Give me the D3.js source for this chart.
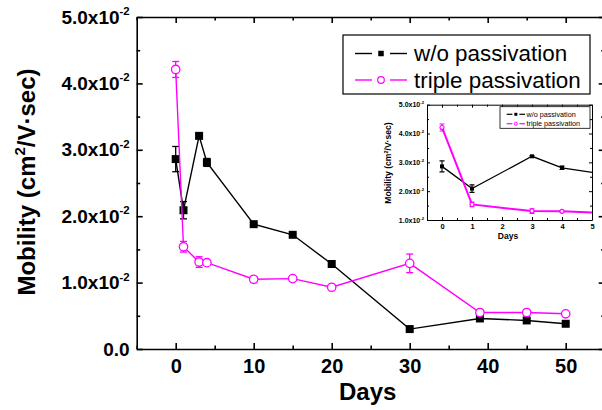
<!DOCTYPE html>
<html><head><meta charset="utf-8">
<script src="https://cdn.jsdelivr.net/npm/d3@7"></script>
<style>
html,body{margin:0;padding:0;background:#fff;}
svg{display:block;font-family:"Liberation Sans",Arial,sans-serif;}
</style></head>
<body>
<svg id="chart" width="602" height="410"></svg>
<script>
// ---- data ----
const days = [0, 1, 3, 4, 10, 15, 20, 30, 39, 45, 50];
const woPassivation = [0.0286, 0.0209, 0.0321, 0.0281, 0.0188, 0.0172, 0.0128, 0.0030, 0.0046, 0.0043, 0.0038];
const woErr = [0.0019, 0.0013, 0.0003, 0.0006, 0.0002, 0.0002, 0.0002, 0.0002, 0.0002, 0.0002, 0.0002];
const triplePassivation = [0.0421, 0.0154, 0.0131, 0.0130, 0.0105, 0.0106, 0.0093, 0.0129, 0.0055, 0.0055, 0.0053];
const tripleErr = [0.0012, 0.0008, 0.0008, 0.0003, 0.0004, 0.0003, 0.0002, 0.0014, 0.0003, 0.0003, 0.0003];
const seriesNames = ["w/o passivation", "triple passivation"];
const xTicks = [0, 10, 20, 30, 40, 50];
const yTicks = [0, 0.01, 0.02, 0.03, 0.04, 0.05];
const yTickLabels = ["0.0", "1.0x10", "2.0x10", "3.0x10", "4.0x10", "5.0x10"];
const yTickExp = ["", "-2", "-2", "-2", "-2", "-2"];
const insetXTicks = [0, 1, 2, 3, 4, 5];
const insetYTicks = [0.01, 0.02, 0.03, 0.04, 0.05];
const insetYTickLabels = ["1.0x10", "2.0x10", "3.0x10", "4.0x10", "5.0x10"];
const xTitle = "Days";
const colors = ["#000000", "#ff00ff"];

const svg = d3.select("#chart");

function buildSeries() {
  return [
    days.map((d, i) => ({x: d, y: woPassivation[i], e: woErr[i]})),
    days.map((d, i) => ({x: d, y: triplePassivation[i], e: tripleErr[i]}))
  ];
}
const series = buildSeries();

function frame(g, x, y, opt) {
  const [x0, x1] = x.range(), [y0, y1] = y.range();
  const minorX = d3.range(x.domain()[0], x.domain()[1] + 1e-9, opt.xMinor).filter(v => !opt.xTicks.some(t => Math.abs(t - v) < 1e-9));
  const minorY = d3.range(y.domain()[0], y.domain()[1] + 1e-9, opt.yMinor).filter(v => !opt.yTicks.some(t => Math.abs(t - v) < 1e-9));
  const sw = opt.sw;
  const style = a => a.call(s => s.select(".domain").attr("stroke-width", sw))
                      .call(s => s.selectAll(".tick line").attr("stroke-width", sw));
  const bx = g.append("g").attr("transform", `translate(0,${y0})`)
    .call(d3.axisBottom(x).tickValues(opt.xTicks).tickSize(-opt.major).tickSizeOuter(0).tickPadding(opt.xPad).tickFormat(d3.format("d")))
    .call(style);
  bx.selectAll("text").attr("font-size", opt.xFont).attr("font-weight", "bold").attr("fill", "#000");
  g.append("g").attr("transform", `translate(0,${y0})`)
    .call(d3.axisBottom(x).tickValues(minorX).tickSize(-opt.minor).tickSizeOuter(0).tickFormat(""))
    .call(style).select(".domain").remove();
  g.append("g").attr("transform", `translate(0,${y1})`)
    .call(d3.axisTop(x).tickValues(opt.xTicks).tickSize(-opt.major).tickSizeOuter(0).tickFormat(""))
    .call(style);
  g.append("g").attr("transform", `translate(0,${y1})`)
    .call(d3.axisTop(x).tickValues(minorX).tickSize(-opt.minor).tickSizeOuter(0).tickFormat(""))
    .call(style).select(".domain").remove();
  const ly = g.append("g").attr("transform", `translate(${x0},0)`)
    .call(d3.axisLeft(y).tickValues(opt.yTicks).tickSize(-opt.major).tickSizeOuter(0).tickPadding(opt.yPad))
    .call(style);
  ly.selectAll("text").each(function(d, i) {
    const t = d3.select(this).text(null).attr("font-size", opt.yFont).attr("font-weight", "bold").attr("fill", "#000");
    t.append("tspan").text(opt.yLabels[i]);
    if (opt.yExp[i]) t.append("tspan").attr("font-size", opt.yFont * 0.6).attr("dy", -opt.yFont * 0.45).text(opt.yExp[i]);
  });
  g.append("g").attr("transform", `translate(${x0},0)`)
    .call(d3.axisLeft(y).tickValues(minorY).tickSize(-opt.minor).tickSizeOuter(0).tickFormat(""))
    .call(style).select(".domain").remove();
  g.append("g").attr("transform", `translate(${x1},0)`)
    .call(d3.axisRight(y).tickValues(opt.yTicks).tickSize(-opt.major).tickSizeOuter(0).tickFormat(""))
    .call(style);
  g.append("g").attr("transform", `translate(${x1},0)`)
    .call(d3.axisRight(y).tickValues(minorY).tickSize(-opt.minor).tickSizeOuter(0).tickFormat(""))
    .call(style).select(".domain").remove();
}

function drawData(g, x, y, opt) {
  const line = d3.line().x(d => x(d.x)).y(d => y(d.y));
  series.forEach((s, k) => {
    const c = colors[k];
    g.append("path").datum(s).attr("fill", "none").attr("stroke", c).attr("stroke-width", opt.lw[k]).attr("d", line);
    const eb = g.append("g").attr("stroke", c).attr("stroke-width", opt.ebw);
    s.forEach(d => {
      const xx = x(d.x), ya = y(d.y + d.e), yb = y(d.y - d.e);
      eb.append("line").attr("x1", xx).attr("x2", xx).attr("y1", ya).attr("y2", yb);
      eb.append("line").attr("x1", xx - opt.cap).attr("x2", xx + opt.cap).attr("y1", ya).attr("y2", ya);
      eb.append("line").attr("x1", xx - opt.cap).attr("x2", xx + opt.cap).attr("y1", yb).attr("y2", yb);
    });
    if (k === 0) {
      g.append("g").selectAll("rect").data(s).join("rect")
        .attr("x", d => x(d.x) - opt.sq / 2).attr("y", d => y(d.y) - opt.sq / 2)
        .attr("width", opt.sq).attr("height", opt.sq).attr("fill", c);
    } else {
      g.append("g").selectAll("circle").data(s).join("circle")
        .attr("cx", d => x(d.x)).attr("cy", d => y(d.y)).attr("r", opt.r)
        .attr("fill", "#fff").attr("stroke", c).attr("stroke-width", opt.cw);
    }
  });
}

function legend(g, opt) {
  g.append("rect").attr("x", opt.x).attr("y", opt.y).attr("width", opt.w).attr("height", opt.h)
    .attr("fill", "#fff").attr("stroke", "#000").attr("stroke-width", opt.bw);
  seriesNames.forEach((name, k) => {
    const yy = opt.y + opt.rows[k];
    const c = colors[k];
    const mx = (opt.lx0 + opt.lx1) / 2;
    g.append("line").attr("x1", opt.lx0).attr("x2", mx - opt.gap).attr("y1", yy).attr("y2", yy)
      .attr("stroke", c).attr("stroke-width", opt.lw);
    g.append("line").attr("x1", mx + opt.gap).attr("x2", opt.lx1).attr("y1", yy).attr("y2", yy)
      .attr("stroke", c).attr("stroke-width", opt.lw);
    if (k === 0) {
      g.append("rect").attr("x", mx - opt.sq / 2).attr("y", yy - opt.sq / 2).attr("width", opt.sq).attr("height", opt.sq).attr("fill", c);
    } else {
      g.append("circle").attr("cx", mx).attr("cy", yy).attr("r", opt.r).attr("fill", "#fff").attr("stroke", c).attr("stroke-width", opt.cw);
    }
    g.append("text").attr("x", opt.tx).attr("y", yy).attr("dy", "0.35em").attr("font-size", opt.fs).attr("fill", "#000").text(name);
  });
}

// ---- main chart ----
const x = d3.scaleLinear().domain([-5, 55]).range([136.7, 604.7]);
const y = d3.scaleLinear().domain([0, 0.05]).range([349, 17]);
const main = svg.append("g");
drawData(main, x, y, {lw: [1.4, 1.4], ebw: 1.3, cap: 3.5, sq: 8, r: 4.2, cw: 1.3});
frame(main, x, y, {xTicks, yTicks, xMinor: 5, yMinor: 0.005, major: 6, minor: 3.5, sw: 1.6,
  xPad: 10, yPad: 7, xFont: 20, yFont: 19, yLabels: yTickLabels, yExp: yTickExp});
main.append("text").attr("x", (x.range()[0] + x.range()[1]) / 2 - 3).attr("y", 400)
  .attr("text-anchor", "middle").attr("font-size", 24).attr("font-weight", "bold").text(xTitle);
const yl = main.append("text").attr("transform", "translate(35,182) rotate(-90)").attr("text-anchor", "middle")
  .attr("font-size", 24).attr("font-weight", "bold");
yl.append("tspan").text("Mobility (cm");
yl.append("tspan").attr("font-size", 15).attr("dy", -10).text("2");
yl.append("tspan").attr("dy", 10).text("/V·sec)");
legend(main, {x: 343, y: 35, w: 247, h: 59, bw: 1.2, rows: [18.5, 45], lx0: 355, lx1: 407, lw: 1.4,
  sq: 5.5, r: 3.3, cw: 1.2, gap: 9, tx: 414, fs: 22.4});

// ---- inset ----
const xi = d3.scaleLinear().domain([-0.5, 5]).range([427, 592]);
const yi = d3.scaleLinear().domain([0.01, 0.05]).range([220, 104.7]);
const inset = svg.append("g");
inset.append("rect").attr("x", 427).attr("y", 104.7).attr("width", 165).attr("height", 115.3).attr("fill", "#fff");
svg.append("clipPath").attr("id", "ic").append("rect").attr("x", 427).attr("y", 104.7).attr("width", 165).attr("height", 115.3);
const idata = inset.append("g").attr("clip-path", "url(#ic)");
drawData(idata, xi, yi, {lw: [1.3, 2], ebw: 1.1, cap: 2.5, sq: 4, r: 2, cw: 1.1});
frame(inset, xi, yi, {xTicks: insetXTicks, yTicks: insetYTicks, xMinor: 0.5, yMinor: 0.005, major: 3, minor: 2, sw: 1,
  xPad: 4, yPad: 3, xFont: 7.5, yFont: 7, yLabels: insetYTickLabels, yExp: ["-2", "-2", "-2", "-2", "-2"]});
inset.append("text").attr("x", 508).attr("y", 238.5).attr("text-anchor", "middle").attr("font-size", 8.5)
  .attr("font-weight", "bold").text(xTitle);
const yl2 = inset.append("text").attr("transform", "translate(391,163) rotate(-90)").attr("text-anchor", "middle")
  .attr("font-size", 8.6).attr("font-weight", "bold");
yl2.append("tspan").text("Mobility (cm");
yl2.append("tspan").attr("font-size", 5.5).attr("dy", -3.5).text("2");
yl2.append("tspan").attr("dy", 3.5).text("/V·sec)");
legend(inset, {x: 500, y: 106.7, w: 90, h: 21.6, bw: 0.8, rows: [7.6, 17], lx0: 506.7, lx1: 525, lw: 1.2,
  sq: 3, r: 1.6, cw: 0.9, gap: 3.5, tx: 526.5, fs: 7.2});
</script>
</body></html>
